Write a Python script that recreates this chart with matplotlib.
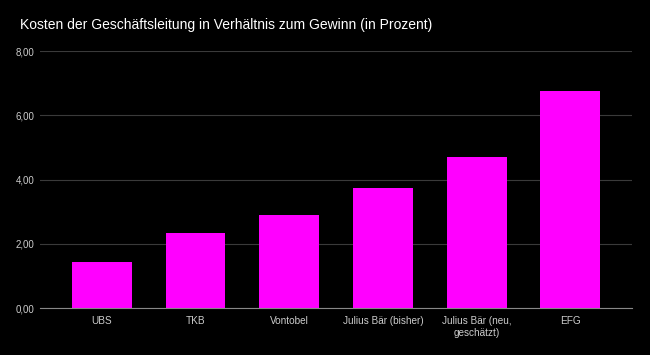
import matplotlib.pyplot as plt

plt.rcParams['font.family'] = ['Liberation Sans', 'DejaVu Sans']

# data
banks = ['UBS', 'TKB', 'Vontobel', 'Julius Bär (bisher)', 'Julius Bär (neu,\ngeschätzt)', 'EFG']
costs = [1.43, 2.34, 2.90, 3.74, 4.70, 6.76]
yticks = [0, 2, 4, 6, 8]

fig = plt.figure(figsize=(6.5, 3.55), dpi=100, facecolor='black')
ax = fig.add_axes([0.0615, 0.132, 0.911, 0.724], facecolor='black')

ax.bar(range(len(banks)), costs, width=0.64, color='#ff00ff', zorder=3)

ax.set_xlim(-0.66, 5.66)
ax.set_ylim(0, 8)
ax.set_yticks(yticks)
ax.set_yticklabels([f'{v:.2f}'.replace('.', ',') for v in yticks])
ax.set_xticks(range(len(banks)))
ax.set_xticklabels(banks)
ax.tick_params(axis='both', length=0, labelsize=7, colors='#cccccc')
ax.tick_params(axis='x', pad=6, labelsize=7.2)
ax.tick_params(axis='y', pad=4)
ax.grid(axis='y', color='#3a3a3a', linewidth=0.8, zorder=0)

for s in ['top', 'right', 'left']:
    ax.spines[s].set_visible(False)
ax.spines['bottom'].set_color('#888888')
ax.spines['bottom'].set_zorder(4)

fig.text(0.031, 0.93, 'Kosten der Geschäftsleitung in Verhältnis zum Gewinn (in Prozent)',
         color='white', fontsize=10, ha='left', va='center')

fig.savefig('out.png', facecolor='black')
